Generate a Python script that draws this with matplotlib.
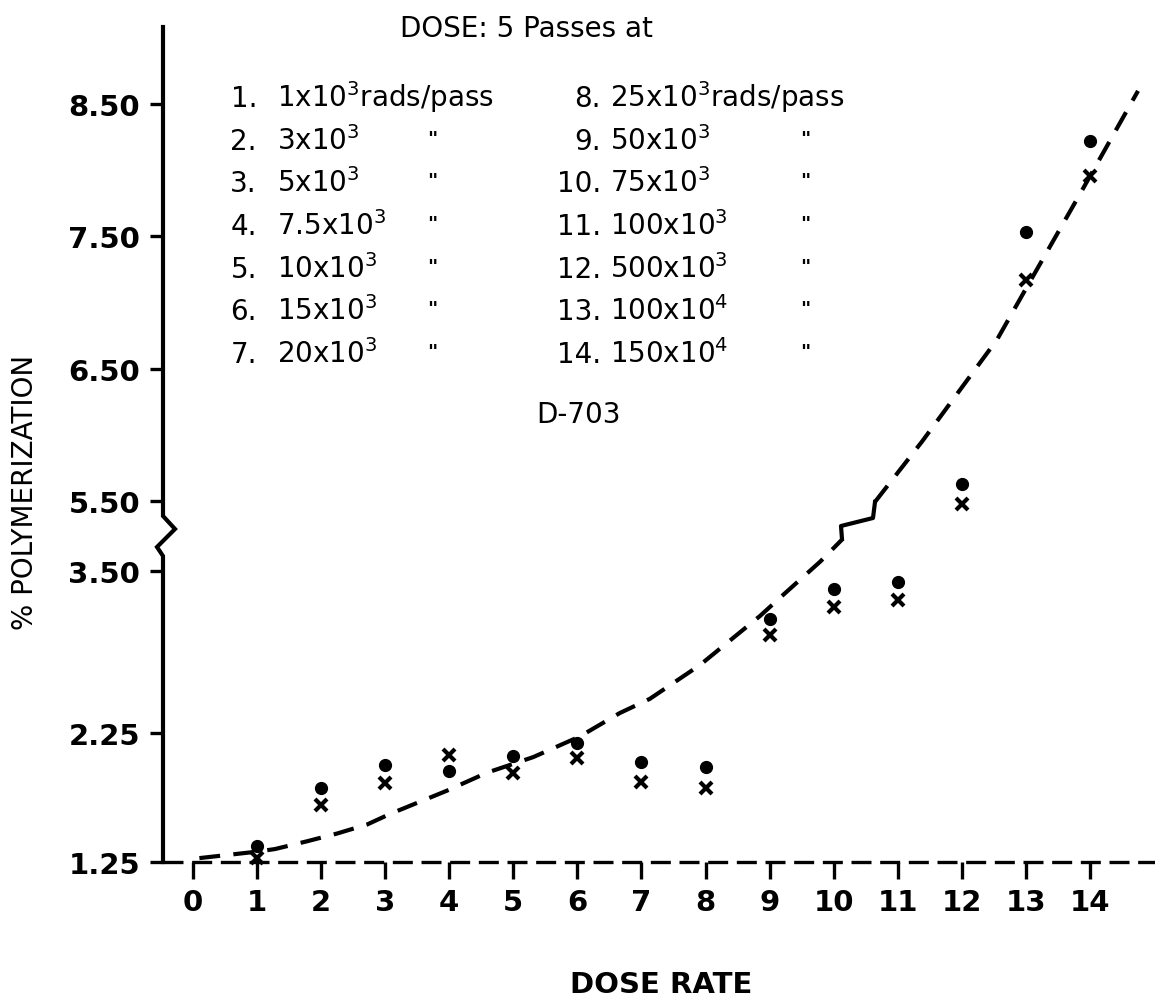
import matplotlib.pyplot as plt
import numpy as np

## DATA

dose_rate = [1, 2, 3, 4, 5, 6, 7, 8, 9, 10, 11, 12, 13, 14]

# dots and crosses (two runs), % polymerization
poly_dot = [1.37, 1.82, 2.00, 1.95, 2.07, 2.17, 2.02, 1.98, 3.13, 3.36, 3.41, 5.63, 7.53, 8.22]
poly_x   = [1.28, 1.69, 1.86, 2.08, 1.94, 2.05, 1.87, 1.82, 3.00, 3.22, 3.27, 5.48, 7.17, 7.96]

# dashed curve, below the axis break and above it
fit_lo_x = [0.10, 1.00, 1.28, 1.78, 2.25, 2.72, 3.07, 3.96, 4.59, 5.31, 6.04, 6.66, 7.13, 7.91, 8.85, 9.16, 9.79, 10.13]
fit_lo_y = [1.28, 1.33, 1.35, 1.41, 1.47, 1.54, 1.62, 1.80, 1.94, 2.06, 2.22, 2.40, 2.51, 2.77, 3.15, 3.29, 3.57, 3.74]
fit_hi_x = [10.64, 11.38, 12.55, 13.03, 13.89, 14.75]
fit_hi_y = [5.49, 5.95, 6.72, 7.13, 7.86, 8.60]

y_ticks = [1.25, 2.25, 3.50, 5.50, 6.50, 7.50, 8.50]
x_ticks = list(range(15))

rate_num = ['1.', '2.', '3.', '4.', '5.', '6.', '7.', '8.', '9.', '10.', '11.', '12.', '13.', '14.']
rate_txt = ['1x10$^3$', '3x10$^3$', '5x10$^3$', '7.5x10$^3$', '10x10$^3$', '15x10$^3$', '20x10$^3$',
            '25x10$^3$', '50x10$^3$', '75x10$^3$', '100x10$^3$', '500x10$^3$', '100x10$^4$', '150x10$^4$']

## SETUP

plt.rcParams['font.family'] = 'DejaVu Sans'
plt.rcParams['mathtext.default'] = 'regular'

W, H = 1155, 1003
fig = plt.figure(figsize=(W / 100, H / 100), dpi=100)
ax = fig.add_axes([163 / W, 1 - 863 / H, 992 / W, 835 / H])

# broken y axis: 3.80 .. 5.30 squeezed into almost nothing
val_knots = [-10.0, 3.80, 5.30, 30.0]
pos_knots = [-10.0, 3.80, 3.834, 4.038 + 24.5 * 1.0216]


def fwd(v):
    return np.interp(v, val_knots, pos_knots)


def inv(p):
    return np.interp(p, pos_knots, val_knots)


ax.set_yscale('function', functions=(fwd, inv))
ax.set_xlim(-0.468, 15.015)
ax.set_ylim(1.25, 9.083)

for s in ax.spines.values():
    s.set_visible(False)


# reference pixel -> axes fraction (for the break marks only)
def frac(px, py):
    return (px - 163) / 992, (863 - py) / 835


## PLOTTING

ax.axhline(1.25, color='k', lw=2.4, linestyle=(0, (6, 2.6)), clip_on=False)

ax.plot(fit_lo_x, fit_lo_y, color='k', lw=3, linestyle=(0, (5, 3.2)), clip_on=False)
ax.plot(fit_hi_x, fit_hi_y, color='k', lw=3, linestyle=(0, (5, 3.2)), clip_on=False)

ax.plot(dose_rate, poly_dot, 'o', color='k', ms=8.5, clip_on=False)
ax.plot(dose_rate, poly_x, 'x', color='k', ms=9, mew=3, clip_on=False)

# y axis line with zigzag break
axis_px = [(163, 863), (163, 557), (157, 548), (175, 530), (163, 517), (163, 28)]
ax.plot(*zip(*[frac(*p) for p in axis_px]), transform=ax.transAxes,
        color='k', lw=3, clip_on=False, solid_joinstyle='miter')

# zigzag in the curve
zig_px = [(842, 540), (841, 527), (873, 519), (875, 503)]
ax.plot(*zip(*[frac(*p) for p in zig_px]), transform=ax.transAxes,
        color='k', lw=3, clip_on=False)

## TICKS

ax.set_xticks(x_ticks)
ax.set_xticklabels([str(t) for t in x_ticks], fontweight='bold')
ax.tick_params(axis='x', direction='out', length=12, width=2.4, pad=7, labelsize=21)

ax.set_yticks(y_ticks)
ax.set_yticklabels(['%.2f' % t for t in y_ticks], fontweight='bold')
ax.yaxis.set_minor_locator(plt.NullLocator())
ax.tick_params(axis='y', direction='out', length=9.5, width=2.4, pad=7, labelsize=21)

## TEXT

fig.text(25 / W, 1 - 492 / H, '% POLYMERIZATION', rotation=90, ha='center', va='center', fontsize=20)
fig.text(661 / W, 1 - 985 / H, 'DOSE RATE', ha='center', va='center', fontsize=21, fontweight='bold')
fig.text(579 / W, 1 - 415 / H, 'D-703', ha='center', va='center', fontsize=20)
fig.text(400 / W, 1 - 37 / H, 'DOSE: 5 Passes at', ha='left', va='baseline', fontsize=20)

row_base = [107, 150, 192, 235, 278, 320, 363]
for i in range(14):
    col = i // 7
    yb = row_base[i % 7]
    nx, tx, qx = [(257, 277, 432), (601, 610, 805)][col]
    fig.text(nx / W, 1 - yb / H, rate_num[i], ha='right', va='baseline', fontsize=20)
    if i % 7 == 0:
        fig.text(tx / W, 1 - yb / H, rate_txt[i] + 'rads/pass', ha='left', va='baseline', fontsize=20)
    else:
        fig.text(tx / W, 1 - yb / H, rate_txt[i], ha='left', va='baseline', fontsize=20)
        fig.text(qx / W, 1 - (yb - 20) / H, '"', ha='center', va='top', fontsize=14, fontweight='bold')

fig.savefig('out.png', dpi=100)
